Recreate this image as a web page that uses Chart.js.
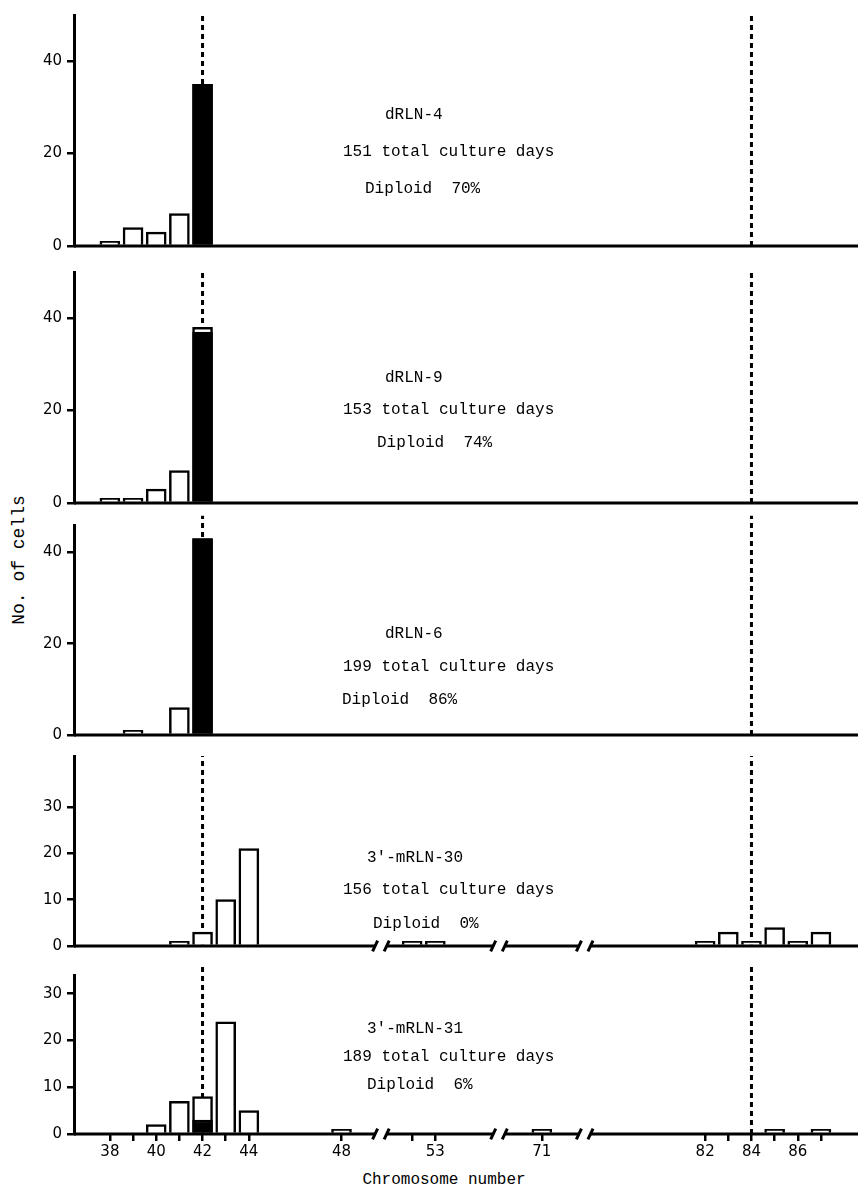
<!DOCTYPE html>
<html><head><meta charset="utf-8">
<script src="https://cdn.jsdelivr.net/npm/chart.js@4.4.1/dist/chart.umd.min.js"></script>
<style>
html,body{margin:0;padding:0;background:#fff;}
#wrap{position:relative;width:860px;height:1194px;overflow:hidden;background:#fff;}
canvas{position:absolute;left:0;}
.note{position:absolute;font-family:'Liberation Mono',monospace;font-size:16px;color:#000;white-space:pre;line-height:20px;}
#ylab{position:absolute;left:19px;top:560px;font-family:'Liberation Mono',monospace;font-size:18px;color:#000;white-space:pre;transform:translate(-50%,-50%) rotate(-90deg);}
#xlab{position:absolute;left:444px;top:1180px;font-family:'Liberation Mono',monospace;font-size:16px;color:#000;white-space:pre;transform:translate(-50%,-50%);}
</style></head>
<body><div id="wrap"><div id="ylab">No. of cells</div><div id="xlab">Chromosome number</div></div>
<script>
// ---------------- data ----------------
const chromosomes = [38,39,40,41,42,43,44,48,52,53,71,82,83,84,85,86,87];
const totalP1   = [1,4,3,7,35,0,0,0,0,0,0,0,0,0,0,0,0];
const diploidP1 = [0,0,0,0,35,0,0,0,0,0,0,0,0,0,0,0,0];
const totalP2   = [1,1,3,7,38,0,0,0,0,0,0,0,0,0,0,0,0];
const diploidP2 = [0,0,0,0,37,0,0,0,0,0,0,0,0,0,0,0,0];
const totalP3   = [0,1,0,6,43,0,0,0,0,0,0,0,0,0,0,0,0];
const diploidP3 = [0,0,0,0,43,0,0,0,0,0,0,0,0,0,0,0,0];
const totalP4   = [0,0,0,1,3,10,21,0,1,1,0,1,3,1,4,1,3];
const diploidP4 = [0,0,0,0,0,0,0,0,0,0,0,0,0,0,0,0,0];
const totalP5   = [0,0,2,7,8,24,5,1,0,0,1,0,0,0,1,0,1];
const diploidP5 = [0,0,0,0,3,0,0,0,0,0,0,0,0,0,0,0,0];

const panelNames  = ['dRLN-4','dRLN-9','dRLN-6',"3'-mRLN-30","3'-mRLN-31"];
const cultureDays = [151,153,199,156,189];
const diploidPct  = [70,74,86,0,6];

const yMax      = [50,50,46,41,34];
const dashTop   = [50,50,48,41,36];
const yTicksA   = [0,20,40];
const yTicksB   = [0,10,20,30];
const xTickValues = [38,39,40,41,42,43,44,48,52,53,71,82,83,84,85,86,87];
const xTickLabels = ['38','','40','','42','','44','48','','53','71','82','','84','','86',''];
const refLines  = [42,84];
const axisSegments = [[36.45,49.45],[50.9,55.5],[69.4,72.6],[77.05,88.6]];
const SEG_GAP = 0.5;

// ---------------- layout (pixels) ----------------
const panelLayout = [
  {top:15,  zero:248,  broken:false, yt:yTicksA, text:[[385,115],[343,152],[365,189]]},
  {top:272, zero:505,  broken:false, yt:yTicksA, text:[[385,378],[343,410],[377,443]]},
  {top:525, zero:737,  broken:false, yt:yTicksA, text:[[385,634],[343,667],[342,700]]},
  {top:756, zero:948,  broken:true,  yt:yTicksB, text:[[367,858],[343,890],[373,924]]},
  {top:975, zero:1134, broken:true,  yt:yTicksB, text:[[367,1029],[343,1057],[367,1085]]}
];
const totals = [totalP1,totalP2,totalP3,totalP4,totalP5];
const diploids = [diploidP1,diploidP2,diploidP3,diploidP4,diploidP5];

function compress(v){
  let off = 0;
  for (const [a,b] of axisSegments){
    if (v >= a - 1e-9 && v <= b + 1e-9) return off + (v - a);
    off += (b - a) + SEG_GAP;
  }
  return off;
}
const X_MAX = axisSegments.reduce((s,[a,b]) => s + (b - a), 0) + SEG_GAP*(axisSegments.length - 1);

const wrap = document.getElementById('wrap');
const PAD_TOP = 15, PAD_BOT = 12, XAX_H = 32;

panelLayout.forEach((L, i) => {
  const last = i === panelLayout.length - 1;
  const cv = document.createElement('canvas');
  const h = PAD_TOP + (L.zero - L.top) + (last ? XAX_H : PAD_BOT);
  cv.width = 860; cv.height = h;
  cv.style.top = (L.top - PAD_TOP) + 'px';
  cv.style.width = '860px'; cv.style.height = h + 'px';
  wrap.appendChild(cv);

  const datasets = [];
  datasets.push({
    type:'bar', order:2, grouped:false, barThickness:20,
    data: chromosomes.map((c,k) => ({x:compress(c), y:totals[i][k]})).filter(d => d.y > 0),
    backgroundColor:'#fff', borderColor:'#000', borderWidth:2.5
  });
  datasets.push({
    type:'bar', order:1, grouped:false, barThickness:20,
    data: chromosomes.map((c,k) => ({x:compress(c), y:diploids[i][k]})).filter(d => d.y > 0),
    backgroundColor:'#000', borderColor:'#000', borderWidth:2.5
  });
  refLines.forEach(r => datasets.push({
    type:'line', order:10, clip:false, stack:'ref'+r,
    data:[{x:compress(r), y:0},{x:compress(r), y:dashTop[i]}],
    borderColor:'#000', borderWidth:3, borderDash:[5,4], pointRadius:0, fill:false
  }));
  const segs = L.broken ? axisSegments : [[axisSegments[0][0], axisSegments[axisSegments.length-1][1]]];
  segs.forEach((s, k) => datasets.push({
    type:'line', order:0, clip:false, stack:'base'+k,
    data:[{x:compress(s[0]), y:0},{x:compress(s[1]), y:0}],
    borderColor:'#000', borderWidth:3, pointRadius:0, fill:false, borderCapStyle:'butt'
  }));
  if (L.broken){
    const pts = [];
    for (let k = 0; k < axisSegments.length - 1; k++){
      pts.push({x:compress(axisSegments[k][1]), y:0});
      pts.push({x:compress(axisSegments[k+1][0]), y:0});
    }
    datasets.push({
      type:'line', order:0, clip:false, showLine:false, stack:'brk',
      data:pts, pointStyle:'line', pointRotation:-65, pointRadius:6,
      pointBorderWidth:3, pointBorderColor:'#000', pointBackgroundColor:'#000'
    });
  }

  new Chart(cv, {
    type:'bar',
    data:{datasets},
    options:{
      responsive:false, animation:false, devicePixelRatio:1,
      layout:{autoPadding:false, padding:{top:PAD_TOP, bottom:last ? 0 : PAD_BOT, right:2, left:0}},
      plugins:{legend:{display:false}, tooltip:{enabled:false}},
      scales:{
        x:{
          type:'linear', min:0, max:X_MAX, offset:false, display:last,
          afterBuildTicks: s => { s.ticks = xTickValues.map(v => ({value:compress(v)})); },
          afterFit: s => { s.height = last ? XAX_H : 0; },
          ticks:{autoSkip:false, maxRotation:0, color:'#000', padding:2,
                 font:{family:'DejaVu Sans', size:15},
                 callback:(v, idx) => xTickLabels[idx]},
          grid:{offset:false, drawOnChartArea:false, drawTicks:true, tickLength:7, lineWidth:2.5, color:'#000'},
          border:{display:false}
        },
        y:{
          type:'linear', min:0, max:yMax[i],
          afterBuildTicks: s => { s.ticks = L.yt.map(v => ({value:v})); },
          afterFit: s => { s.width = 74; },
          ticks:{color:'#000', padding:5, font:{family:'DejaVu Sans', size:15}},
          grid:{drawOnChartArea:false, drawTicks:true, tickLength:7, lineWidth:2.5, color:'#000'},
          border:{display:true, width:3, color:'#000'}
        }
      }
    }
  });

  const lines = [panelNames[i], cultureDays[i] + ' total culture days', 'Diploid  ' + diploidPct[i] + '%'];
  lines.forEach((t, k) => {
    const d = document.createElement('div');
    d.className = 'note';
    d.textContent = t;
    d.style.left = L.text[k][0] + 'px';
    d.style.top = (L.text[k][1] - 10) + 'px';
    wrap.appendChild(d);
  });
});
</script>
</body></html>
